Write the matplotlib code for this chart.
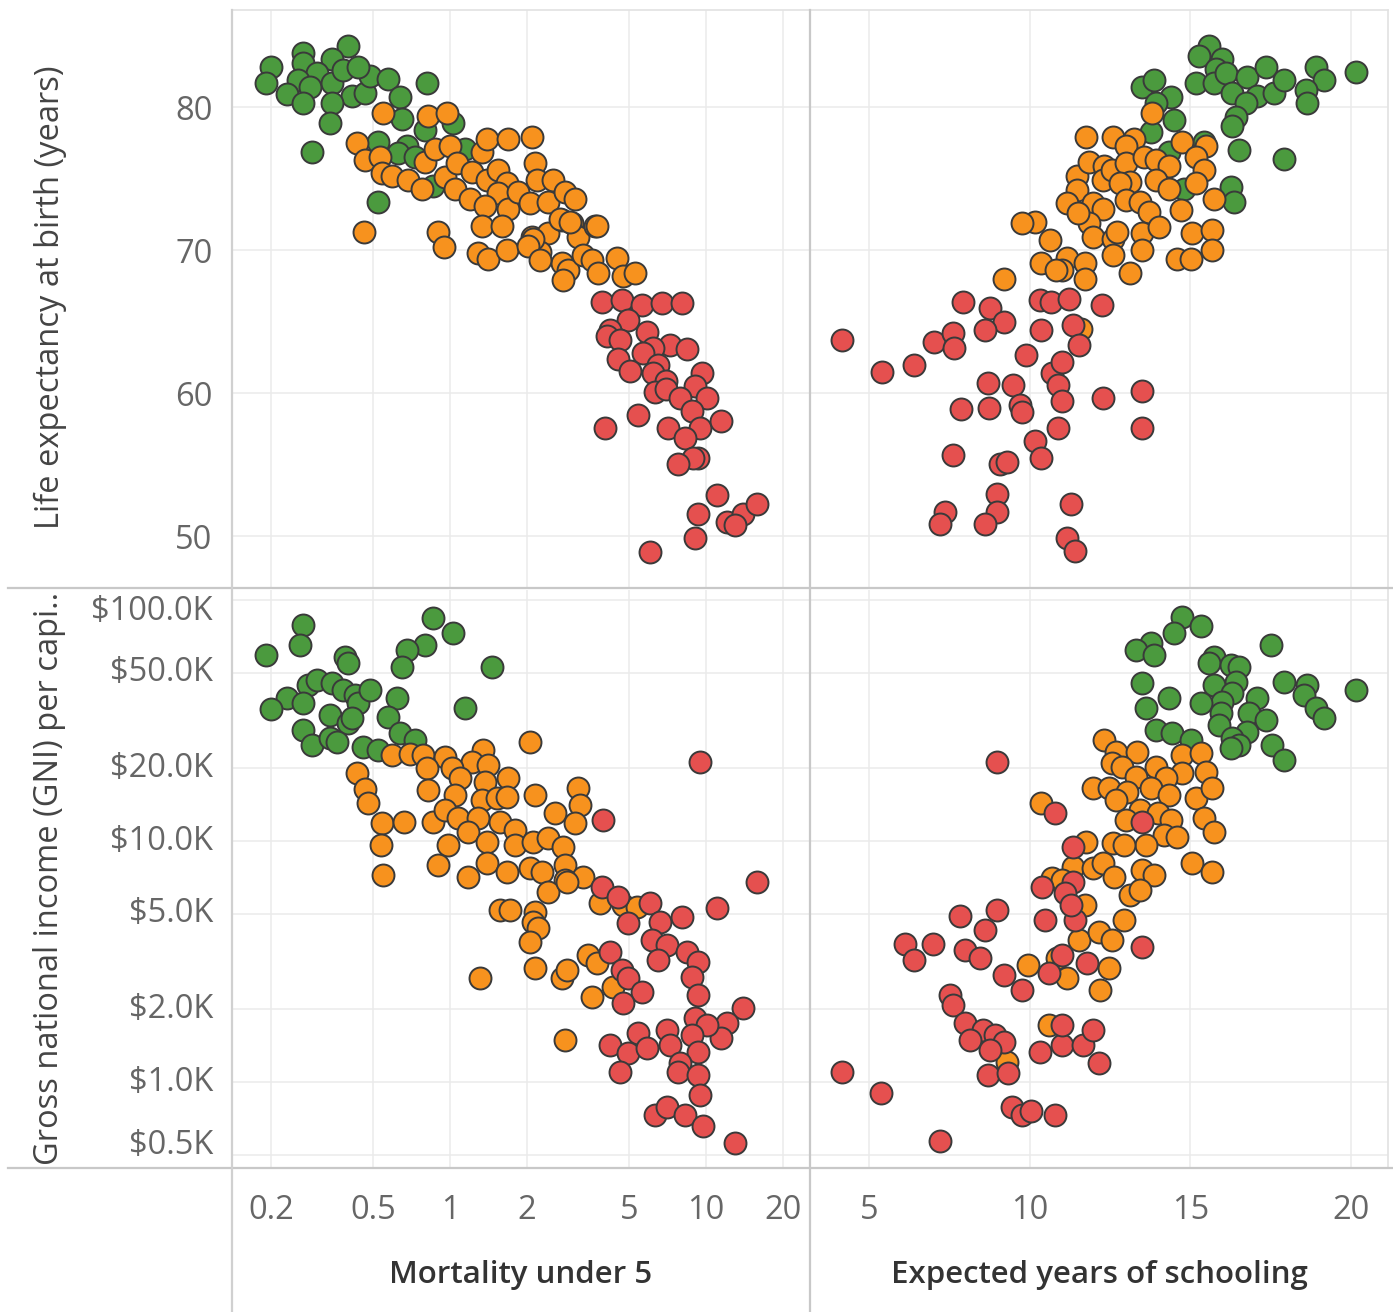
import matplotlib
matplotlib.use("Agg")
import matplotlib.pyplot as plt
from matplotlib.lines import Line2D
from matplotlib.ticker import FixedLocator, NullLocator
from matplotlib.transforms import blended_transform_factory, offset_copy

plt.rcParams['font.family'] = ['Open Sans', 'DejaVu Sans']

GREEN = '#4b9a3e'
ORANGE = '#f7921e'
RED = '#e5504f'
EDGE = '#3a3a3a'

# ---------------- Mortality under 5 vs Life expectancy ----------------
ML_GREEN_MORT = [0.199, 0.191, 0.266, 0.266, 0.40, 0.346, 0.302, 0.255, 0.284, 0.231, 0.266, 0.346, 0.38,
                 0.414, 0.466, 0.487, 0.573, 0.437, 0.346, 0.34, 0.638, 0.65, 0.813, 0.289, 0.523, 0.679,
                 0.626, 0.80, 1.03, 1.14, 0.858, 0.523, 0.73]
ML_GREEN_LIFE = [82.8, 81.7, 83.8, 83.1, 84.3, 83.4, 82.4, 81.9, 81.4, 80.9, 80.3, 81.7, 82.6,
                 80.8, 81.0, 82.2, 82.0, 82.8, 80.3, 78.9, 80.7, 79.2, 81.7, 76.9, 77.6, 77.3,
                 76.8, 78.4, 78.9, 77.1, 74.5, 73.4, 76.5]
ML_ORANGE_MORT = [0.548, 0.82, 0.973, 0.433, 0.466, 0.533, 0.543, 0.594, 0.686, 0.777, 0.80, 0.874, 1.0,
                  0.956, 1.065, 1.046, 1.197, 1.22, 1.33, 1.39, 1.69, 2.09, 1.39, 1.54, 1.67, 1.54, 1.37,
                  1.69, 1.84, 2.05, 2.15, 2.19, 2.53, 2.41, 2.81, 3.08, 1.33, 1.60, 0.462, 0.898, 0.947,
                  1.29, 1.41, 1.67, 2.09, 2.41, 2.25, 2.74, 3.00, 3.16, 3.69, 2.74, 2.89, 3.31, 3.59,
                  3.79, 4.49, 4.74, 5.28, 2.69, 2.94, 3.75, 2.11, 2.02, 2.25, 2.76]
ML_ORANGE_LIFE = [79.6, 79.4, 79.6, 77.5, 76.3, 76.5, 75.4, 75.2, 74.9, 74.3, 76.2, 77.1, 77.3,
                  75.1, 76.1, 74.3, 73.6, 75.5, 76.9, 77.8, 77.8, 77.9, 74.9, 75.6, 74.7, 74.0, 73.1,
                  72.9, 74.1, 73.3, 76.1, 74.9, 74.9, 73.4, 74.1, 73.6, 71.7, 71.7, 71.3, 71.3, 70.2,
                  69.8, 69.4, 70.0, 70.9, 71.2, 69.9, 72.1, 71.9, 70.9, 71.7, 69.1, 68.6, 69.7, 69.3,
                  68.4, 69.5, 68.2, 68.4, 72.2, 72.0, 71.7, 70.8, 70.3, 69.3, 67.9]
ML_RED_MORT = [3.93, 4.70, 5.62, 6.73, 8.06, 4.96, 4.22, 4.11, 4.61, 5.87, 7.23, 8.44, 6.22, 5.68, 4.53,
               5.05, 6.5, 6.22, 7.0, 9.65, 9.08, 6.33, 7.0, 7.91, 10.1, 8.84, 9.47, 11.5, 5.42, 4.03,
               7.1, 8.27, 9.3, 8.9, 7.8, 11.0, 9.3, 12.1, 13.9, 15.8, 13.0, 9.08, 6.04]
ML_RED_LIFE = [66.4, 66.5, 66.2, 66.3, 66.3, 65.1, 64.4, 64.0, 63.7, 64.3, 63.4, 63.1, 63.2, 62.8, 62.4,
               61.6, 62.0, 61.4, 60.9, 61.4, 60.5, 60.1, 60.3, 59.7, 59.7, 58.8, 57.6, 58.1, 58.5, 57.6,
               57.6, 56.9, 55.5, 55.5, 55.1, 52.9, 51.6, 51.0, 51.6, 52.3, 50.8, 49.9, 48.9]

# ---------------- Expected years of schooling vs Life expectancy ----------------
SL_GREEN_SCHOOL = [15.59, 15.28, 15.99, 15.81, 15.19, 15.75, 16.12, 16.30, 16.77, 17.36, 17.08, 17.61,
                   17.92, 16.74, 16.43, 16.30, 18.91, 19.16, 18.60, 18.63, 20.16, 13.51, 13.88, 14.41,
                   13.94, 14.50, 13.79, 16.52, 17.92, 16.27, 16.37, 14.35, 15.43, 14.81]
SL_GREEN_LIFE = [84.3, 83.6, 83.4, 82.7, 81.7, 81.7, 82.4, 81.0, 82.1, 82.8, 80.8, 81.0,
                 81.9, 80.3, 79.3, 78.7, 82.8, 81.9, 81.2, 80.3, 82.5, 81.4, 81.9, 80.7,
                 80.3, 79.1, 78.3, 77.0, 76.4, 74.4, 73.4, 76.9, 77.6, 74.3]
SL_ORANGE_SCHOOL = [13.82, 11.77, 12.58, 13.26, 14.75, 15.50, 13.01, 11.49, 11.86, 12.33, 12.27, 12.55,
                    13.01, 13.57, 13.94, 14.35, 15.19, 15.43, 15.19, 13.94, 14.35, 13.11, 12.80, 11.49,
                    11.15, 11.96, 12.27, 13.01, 13.42, 13.73, 14.72, 15.75, 11.86, 11.96, 12.58, 12.73,
                    13.51, 14.04, 13.51, 15.06, 15.68, 15.68, 14.60, 15.03, 11.18, 11.71, 12.58, 13.11,
                    11.71, 11.02, 10.16, 9.78, 10.65, 9.19, 10.37, 10.81, 11.52, 11.6]
SL_ORANGE_LIFE = [79.6, 77.9, 77.9, 77.8, 77.6, 77.3, 77.3, 75.2, 76.2, 75.9, 74.9, 75.6,
                  76.1, 76.5, 76.3, 75.9, 76.5, 75.6, 74.7, 74.9, 74.3, 74.8, 74.7, 74.2,
                  73.3, 73.3, 72.9, 73.5, 73.4, 72.7, 72.8, 73.6, 71.9, 70.9, 70.8, 71.3,
                  71.2, 71.6, 70.0, 71.2, 71.4, 70.0, 69.4, 69.4, 69.5, 69.1, 69.7, 68.4,
                  68.0, 68.6, 72.0, 71.9, 70.7, 68.0, 69.1, 68.6, 72.6, 64.5]
SL_RED_SCHOOL = [4.16, 5.40, 6.40, 7.02, 7.92, 8.76, 7.61, 7.64, 9.19, 8.60, 9.88, 10.31, 10.37, 10.68,
                 11.24, 11.34, 11.55, 10.71, 11.02, 10.87, 9.47, 8.70, 12.24, 12.27, 13.51, 13.51, 7.86,
                 8.73, 9.69, 9.78, 11.0, 10.87, 10.16, 7.61, 9.07, 9.29, 10.37, 8.98, 8.98, 7.36, 7.2,
                 8.60, 11.30, 11.15, 11.40]
SL_RED_LIFE = [63.7, 61.5, 62.0, 63.6, 66.4, 66.0, 64.2, 63.2, 65.0, 64.4, 62.7, 66.5, 64.4, 66.4,
               66.6, 64.8, 63.4, 61.4, 62.2, 60.6, 60.6, 60.7, 66.2, 59.7, 60.2, 57.6, 58.9,
               59.0, 59.2, 58.7, 59.5, 57.6, 56.7, 55.7, 55.1, 55.2, 55.5, 53.0, 51.7, 51.7, 50.9,
               50.9, 52.3, 49.9, 49.0]

# ---------------- Mortality under 5 vs GNI per capita ----------------
MG_GREEN_MORT = [0.266, 0.259, 0.191, 0.389, 0.40, 0.858, 1.03, 0.80, 0.679, 0.65, 1.46, 0.279, 0.231,
                 0.20, 0.266, 0.302, 0.346, 0.38, 0.426, 0.437, 0.487, 0.62, 0.573, 0.34, 0.40, 0.414,
                 0.266, 0.289, 0.34, 0.362, 0.638, 0.73, 0.457, 0.523, 1.14]
MG_GREEN_GNI = [78700, 65000, 59100, 58000, 54800, 84200, 73000, 65000, 62000, 52700, 52700, 44400, 39200,
                35300, 37400, 46600, 45300, 42300, 40400, 37400, 42300, 39200, 32700, 33300, 30900, 32400,
                28900, 25000, 26700, 25800, 28100, 26200, 24500, 23900, 35600]
MG_ORANGE_MORT = [0.594, 0.698, 0.784, 0.956, 0.813, 0.433, 0.466, 0.478, 2.05, 1.35, 1.22, 1.41, 1.02,
                  1.094, 1.37, 1.69, 0.82, 1.046, 1.33, 1.53, 1.67, 2.15, 3.16, 3.22, 2.57, 3.08, 0.543,
                  0.661, 0.858, 0.956, 1.075, 1.29, 1.568, 1.79, 1.18, 1.39, 1.79, 2.11, 2.41, 2.76,
                  0.538, 0.982, 0.898, 0.548, 1.18, 1.39, 1.67, 2.05, 2.29, 2.81, 3.31, 2.81, 2.41, 2.86,
                  1.568, 1.716, 2.15, 2.11, 2.21, 2.05, 3.85, 4.74, 5.37, 2.15, 2.74, 2.86, 3.46, 3.75,
                  3.59, 4.33, 1.31, 2.81]
MG_ORANGE_GNI = [22700, 23000, 22700, 22300, 20100, 19100, 16400, 14400, 25800, 23900, 21300, 20700, 20100,
                 18300, 17600, 18300, 16300, 15500, 14800, 15100, 15200, 15500, 16600, 14100, 13100, 11900, 11900,
                 12000, 12000, 13400, 12500, 12500, 12000, 11100, 10900, 9900, 9600, 9900, 10300, 9400,
                 9600, 9600, 7950, 7230, 7090, 8100, 7430, 7730, 7430, 7950, 7090, 6890, 6140, 6760,
                 5170, 5170, 5080, 4610, 4360, 3810, 5530, 5430, 5320, 2970, 2700, 2920, 3370, 3120,
                 2250, 2480, 2700, 1490]
MG_RED_MORT = [3.96, 3.93, 4.53, 6.04, 4.96, 6.61, 8.06, 11.0, 15.8, 6.15, 7.04, 6.5, 4.22, 4.70, 4.96,
               8.43, 9.30, 8.84, 9.30, 5.62, 4.74, 13.9, 12.1, 11.5, 9.08, 10.1, 8.84, 7.04, 7.23, 5.42,
               4.22, 4.96, 5.87, 9.30, 7.91, 7.78, 4.61, 9.30, 9.47, 6.33, 7.04, 8.27, 9.74, 13.0, 9.47]
MG_RED_GNI = [12200, 6440, 5860, 5530, 4570, 4610, 4840, 5270, 6760, 3880, 3700, 3210, 3460, 2920, 2700,
              3460, 3150, 2730, 2300, 2360, 2130, 2030, 1760, 1520, 1840, 1720, 1570, 1640, 1430, 1600,
              1430, 1320, 1380, 1330, 1200, 1100, 1100, 1070, 880, 730, 790, 730, 660, 560, 21300]

# ---------------- Expected years of schooling vs GNI per capita ----------------
SG_GREEN_SCHOOL = [14.75, 15.34, 14.50, 13.79, 13.32, 13.88, 17.52, 15.75, 15.59, 16.27, 16.52, 16.43,
                   15.75, 16.30, 15.99, 15.34, 17.92, 18.63, 18.54, 18.91, 19.16, 20.16, 17.08, 16.83,
                   17.36, 15.96, 15.90, 16.77, 16.30, 16.52, 16.27, 17.55, 17.92, 13.51, 14.35, 13.63,
                   13.94, 14.44, 15.03]
SG_GREEN_GNI = [85000, 78000, 73000, 66300, 62000, 59100, 65000, 58000, 54800, 53700, 52700, 45700,
                44400, 41100, 37800, 37400, 45700, 44400, 40400, 35600, 32400, 42300, 39200, 34000,
                31800, 34000, 30300, 28300, 26700, 25000, 24300, 25000, 21700, 45300, 39200, 35600,
                28900, 28100, 26200]
SG_ORANGE_SCHOOL = [12.33, 12.70, 13.35, 12.55, 12.89, 14.75, 15.34, 13.94, 14.75, 15.50, 13.32, 14.25,
                    11.96, 12.48, 13.04, 13.79, 14.35, 15.19, 15.68, 12.70, 10.37, 13.42, 13.98, 15.43,
                    15.75, 13.01, 14.41, 14.19, 14.60, 13.63, 11.77, 12.58, 12.95, 15.06, 15.68, 11.34,
                    11.96, 12.27, 12.64, 13.51, 13.88, 10.71, 13.11, 13.42, 11.02, 9.94, 10.84, 11.55,
                    11.71, 12.17, 12.55, 12.95, 12.48, 12.2, 11.18, 10.62, 9.29]
SG_ORANGE_GNI = [26200, 23400, 23400, 21100, 20300, 22700, 23200, 20300, 19100, 19300, 18400, 18300,
                 16600, 16600, 16000, 16600, 15500, 15100, 16600, 14800, 14400, 13400, 13100, 12500,
                 10900, 12200, 12200, 10600, 10400, 9600, 9900, 9800, 9600, 8100, 7430, 7800,
                 7730, 8100, 7090, 7580, 7230, 7020, 5970, 6260, 6890, 3060, 3270, 3880,
                 5430, 4190, 3880, 4700, 2970, 2410, 2700, 1720, 1210]
SG_RED_SCHOOL = [10.78, 13.51, 11.34, 11.34, 10.40, 11.09, 4.16, 5.37, 7.2, 6.12, 6.99, 6.40, 7.83, 8.98,
                 8.60, 7.98, 8.45, 9.22, 7.52, 9.75, 7.61, 7.98, 8.54, 8.91, 9.22, 8.14, 8.76, 10.31,
                 11.02, 8.70, 9.32, 9.44, 9.78, 10.03, 10.78, 11.40, 11.30, 10.47, 11.02, 10.62, 11.80,
                 12.17, 11.65, 11.96, 11.02, 13.51, 8.98]
SG_RED_GNI = [13100, 12000, 9400, 6760, 6440, 6080, 1100, 900, 570, 3740, 3740, 3210, 4890, 5170,
              4270, 3530, 3270, 2780, 2300, 2410, 2090, 1760, 1640, 1570, 1470, 1490, 1360, 1330,
              1430, 1070, 1090, 790, 730, 760, 730, 4700, 5430, 4700, 3370, 2830, 3120,
              1200, 1430, 1640, 1720, 3630, 21300]

MORT_TICKS = [0.2, 0.5, 1, 2, 5, 10, 20]
MORT_LABELS = ['0.2', '0.5', '1', '2', '5', '10', '20']
SCHOOL_TICKS = [5, 10, 15, 20]
SCHOOL_LABELS = ['5', '10', '15', '20']
LIFE_TICKS = [50, 60, 70, 80]
LIFE_LABELS = ['50', '60', '70', '80']
GNI_TICKS = [500, 1000, 2000, 5000, 10000, 20000, 50000, 100000]
GNI_LABELS = ['$0.5K', '$1.0K', '$2.0K', '$5.0K', '$10.0K', '$20.0K', '$50.0K', '$100.0K']

W, H = 1393, 1312
fig = plt.figure(figsize=(W / 100, H / 100), dpi=100)
fig.patch.set_facecolor('white')


def rect(x0, y0, x1, y1):
    return [x0 / W, 1 - y1 / H, (x1 - x0) / W, (y1 - y0) / H]


ax_tl = fig.add_axes(rect(232, 10, 810, 588))
ax_tr = fig.add_axes(rect(810, 10, 1388, 588))
ax_bl = fig.add_axes(rect(232, 590, 810, 1168))
ax_br = fig.add_axes(rect(810, 590, 1388, 1168))

TICK_COLOR = '#666666'
TICK_SIZE = 23.5
TITLE_SIZE = 22.5
GRID = '#ebebeb'
MS = 250


def scatter(ax, xs, ys, color):
    ax.scatter(xs, ys, s=MS, c=color, edgecolors=EDGE, linewidths=1.4, zorder=3)


scatter(ax_tl, ML_GREEN_MORT, ML_GREEN_LIFE, GREEN)
scatter(ax_tl, ML_ORANGE_MORT, ML_ORANGE_LIFE, ORANGE)
scatter(ax_tl, ML_RED_MORT, ML_RED_LIFE, RED)
scatter(ax_tr, SL_GREEN_SCHOOL, SL_GREEN_LIFE, GREEN)
scatter(ax_tr, SL_ORANGE_SCHOOL, SL_ORANGE_LIFE, ORANGE)
scatter(ax_tr, SL_RED_SCHOOL, SL_RED_LIFE, RED)
scatter(ax_bl, MG_GREEN_MORT, MG_GREEN_GNI, GREEN)
scatter(ax_bl, MG_ORANGE_MORT, MG_ORANGE_GNI, ORANGE)
scatter(ax_bl, MG_RED_MORT, MG_RED_GNI, RED)
scatter(ax_br, SG_GREEN_SCHOOL, SG_GREEN_GNI, GREEN)
scatter(ax_br, SG_ORANGE_SCHOOL, SG_ORANGE_GNI, ORANGE)
scatter(ax_br, SG_RED_SCHOOL, SG_RED_GNI, RED)

for ax in (ax_tl, ax_bl):
    ax.set_xscale('log')
    ax.set_xlim(0.1406, 25.5)
    ax.xaxis.set_major_locator(FixedLocator(MORT_TICKS))
    ax.xaxis.set_minor_locator(NullLocator())
for ax in (ax_tr, ax_br):
    ax.set_xlim(3.17, 21.15)
    ax.xaxis.set_major_locator(FixedLocator(SCHOOL_TICKS))
for ax in (ax_tl, ax_tr):
    ax.set_ylim(46.4, 86.8)
    ax.yaxis.set_major_locator(FixedLocator(LIFE_TICKS))
for ax in (ax_bl, ax_br):
    ax.set_yscale('log')
    ax.set_ylim(440, 110000)
    ax.yaxis.set_major_locator(FixedLocator(GNI_TICKS))
    ax.yaxis.set_minor_locator(NullLocator())

for ax in (ax_tl, ax_tr, ax_bl, ax_br):
    for sp in ax.spines.values():
        sp.set_visible(False)
    ax.grid(True, color=GRID, linewidth=1.1, zorder=0)
    ax.set_axisbelow(True)
    ax.tick_params(length=0, colors=TICK_COLOR, labelsize=TICK_SIZE)
    ax.set_facecolor('none')

ax_tl.set_xticklabels([])
ax_tr.set_xticklabels([])
ax_tr.set_yticklabels([])
ax_br.set_yticklabels([])
ax_tl.set_yticklabels(LIFE_LABELS)
ax_tl.tick_params(axis='y', pad=14)
ax_bl.set_xticklabels(MORT_LABELS)
ax_br.set_xticklabels(SCHOOL_LABELS)
ax_bl.tick_params(axis='x', pad=19)
ax_br.tick_params(axis='x', pad=19)

# GNI tick labels (end labels nudged inside as in the original)
ax_bl.set_yticklabels([])
bt = blended_transform_factory(ax_bl.transAxes, ax_bl.transData)
for v, lab in zip(GNI_TICKS, GNI_LABELS):
    dy = 0
    if v == max(GNI_TICKS):
        dy = -12
    elif v == min(GNI_TICKS):
        dy = 9
    tr = offset_copy(bt, fig=fig, x=-19, y=dy, units='dots')
    ax_bl.text(0, v, lab, transform=tr, ha='right', va='center', color=TICK_COLOR, fontsize=TICK_SIZE)


def hline(y, x0, x1, color, lw=1.6):
    fig.add_artist(Line2D([x0 / W, x1 / W], [1 - y / H, 1 - y / H], color=color, lw=lw, transform=fig.transFigure))


def vline(x, y0, y1, color, lw=1.6):
    fig.add_artist(Line2D([x / W, x / W], [1 - y0 / H, 1 - y1 / H], color=color, lw=lw, transform=fig.transFigure))


hline(10, 232, 1388, '#e2e2e2', 1.2)
vline(1388, 10, 1168, '#e2e2e2', 1.2)
hline(588, 8, 1393, '#c8c8c8')
hline(1168, 8, 1393, '#c8c8c8')
vline(232, 10, 1312, '#d0d0d0')
vline(810, 10, 1312, '#c8c8c8')

fig.text(50 / W, 1 - 297 / H, 'Life expectancy at birth (years)', rotation=90, ha='center', va='center',
         fontsize=23.5, color='#444444')
fig.text(50 / W, 1 - 878 / H, 'Gross national income (GNI) per capi..', rotation=90, ha='center',
         va='center', fontsize=23.5, color='#444444')
fig.text(521 / W, 1 - 1275 / H, 'Mortality under 5', ha='center', va='center', fontsize=TITLE_SIZE,
         color='#333333', fontweight='semibold')
fig.text(1099 / W, 1 - 1275 / H, 'Expected years of schooling', ha='center', va='center', fontsize=TITLE_SIZE,
         color='#333333', fontweight='semibold')

fig.savefig('out.png', dpi=100, facecolor='white')
